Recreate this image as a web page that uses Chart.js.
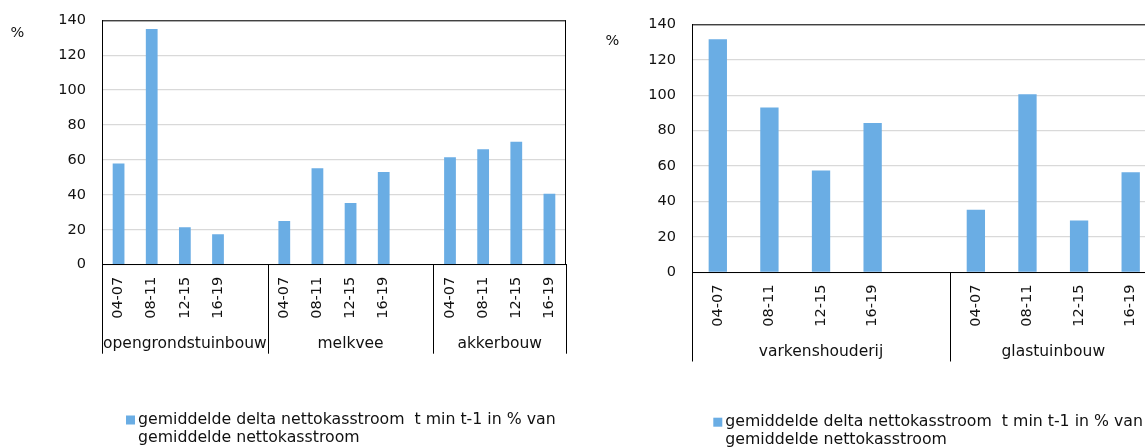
<!DOCTYPE html>
<html>
<head>
<meta charset="utf-8">
<script src="https://cdn.jsdelivr.net/npm/chart.js@4.4.1/dist/chart.umd.min.js"></script>
<style>
  html,body{margin:0;padding:0;background:#fff;}
  #wrap{position:relative;width:1145px;height:447px;overflow:hidden;}
  canvas{position:absolute;top:0;}
  #cLeft{left:0;} #cRight{left:590px;}
</style>
</head>
<body>
<div id="wrap">
  <canvas id="cLeft" width="590" height="447"></canvas>
  <canvas id="cRight" width="590" height="447"></canvas>
</div>
<script>
// ---- data ----
const periods=['04-07','08-11','12-15','16-19'];
const leftGroups=['opengrondstuinbouw','melkvee','akkerbouw'];
const opengrondstuinbouw=[58,135,21.5,17.5];
const melkvee=[25,55.2,35.4,53.1];
const akkerbouw=[61.5,66.1,70.5,40.7];
const rightGroups=['varkenshouderij','glastuinbouw'];
const varkenshouderij=[131.5,93,57.6,84.3];
const glastuinbouw=[35.4,100.5,29.4,56.5];
const yMin=0, yMax=140, yStep=20;
const yUnit='%';
const legendLines=['gemiddelde delta nettokasstroom  t min t-1 in % van','gemiddelde nettokasstroom'];

const FONT="'DejaVu Sans', sans-serif";
const BAR='#6aade4';
const TXT='#111';

// slots: 4 periods per group, an empty slot between groups
function buildSlots(groups,series){
  const labels=[], values=[], spans=[];
  groups.forEach((g,i)=>{
    const start=labels.length;
    periods.forEach((p,j)=>{ labels.push(p); values.push(series[i][j]); });
    if(i<groups.length-1){ labels.push(''); values.push(null); }
    spans.push({name:g,start,end:labels.length-1});
  });
  return {labels,values,spans};
}

// frame, group separators + names, unit label and legend
const groupAxis={
  id:'groupAxis',
  afterDraw(chart,args,o){
    const {ctx,chartArea:a,scales:{x}}=chart;
    const n=chart.data.labels.length;
    const w=(a.right-a.left)/n;
    const edge=i=>x.getPixelForValue(i)-w/2;
    ctx.save();
    ctx.strokeStyle='#000'; ctx.lineWidth=1;
    ctx.beginPath();
    ctx.moveTo(a.left,a.top+0.5); ctx.lineTo(a.right,a.top+0.5);
    ctx.moveTo(a.right-0.5,a.top); ctx.lineTo(a.right-0.5,a.bottom);
    ctx.stroke();
    const spans=o.spans;
    const xs=[edge(0)];
    spans.forEach(s=>xs.push(edge(s.end)+w));
    ctx.beginPath();
    xs.forEach(px=>{ const p=Math.round(px)+0.5; ctx.moveTo(p,a.bottom); ctx.lineTo(p,a.bottom+o.sepLen); });
    ctx.stroke();
    ctx.fillStyle=TXT; ctx.font=`15.5px ${FONT}`;
    ctx.textAlign='center'; ctx.textBaseline='middle';
    spans.forEach((s,i)=>ctx.fillText(s.name,(xs[i]+xs[i+1])/2,a.bottom+o.nameOff));
    ctx.font=`14.5px ${FONT}`;
    ctx.fillText(yUnit,o.unitX,o.unitY);
    const ds=chart.data.datasets[0];
    ctx.fillStyle=ds.backgroundColor;
    ctx.fillRect(o.legX,o.legY,9,9);
    ctx.fillStyle=TXT; ctx.font=`15.75px ${FONT}`; ctx.textAlign='left';
    ds.label.forEach((t,i)=>ctx.fillText(t,o.legX+12,o.legY+4.5+i*18));
    ctx.restore();
  }
};

function makeChart(id,groups,series,opt){
  const s=buildSlots(groups,series);
  return new Chart(document.getElementById(id),{
    type:'bar',
    data:{labels:s.labels,datasets:[{label:legendLines,data:s.values,backgroundColor:BAR,
      categoryPercentage:1,barPercentage:0.355}]},
    options:{
      responsive:false, animation:false,
      layout:{padding:{top:opt.top,right:opt.right,left:0,bottom:0}},
      plugins:{legend:{display:false},tooltip:{enabled:false},
        groupAxis:{spans:s.spans,sepLen:89,nameOff:79.5,unitX:opt.unitX,unitY:opt.unitY,legX:opt.legX,legY:opt.legY}},
      scales:{
        x:{
          grid:{display:false,drawTicks:false},
          border:{color:'#000',width:1},
          ticks:{autoSkip:false,maxRotation:90,minRotation:90,padding:12,color:TXT,font:{family:FONT,size:14.5}},
          afterFit:sc=>{sc.height=opt.xh; sc.paddingTop=0; sc.paddingLeft=0; sc.paddingRight=0;}
        },
        y:{
          min:yMin,max:yMax,
          ticks:{stepSize:yStep,padding:16,color:TXT,font:{family:FONT,size:14.5}},
          grid:{color:'#d9d9d9',lineWidth:1.3,drawTicks:false},
          border:{color:'#000',width:1},
          afterFit:sc=>{sc.width=102; sc.paddingTop=0; sc.paddingBottom=0;}
        }
      }
    },
    plugins:[groupAxis]
  });
}

makeChart('cLeft',leftGroups,[opengrondstuinbouw,melkvee,akkerbouw],
  {top:20.3,right:24,xh:182.3,unitX:17.5,unitY:33.5,legX:126,legY:415.5});
makeChart('cRight',rightGroups,[varkenshouderij,glastuinbouw],
  {top:24.3,right:23.5,xh:174.5,unitX:22.5,unitY:41.7,legX:123.3,legY:417.7});
</script>
</body>
</html>
